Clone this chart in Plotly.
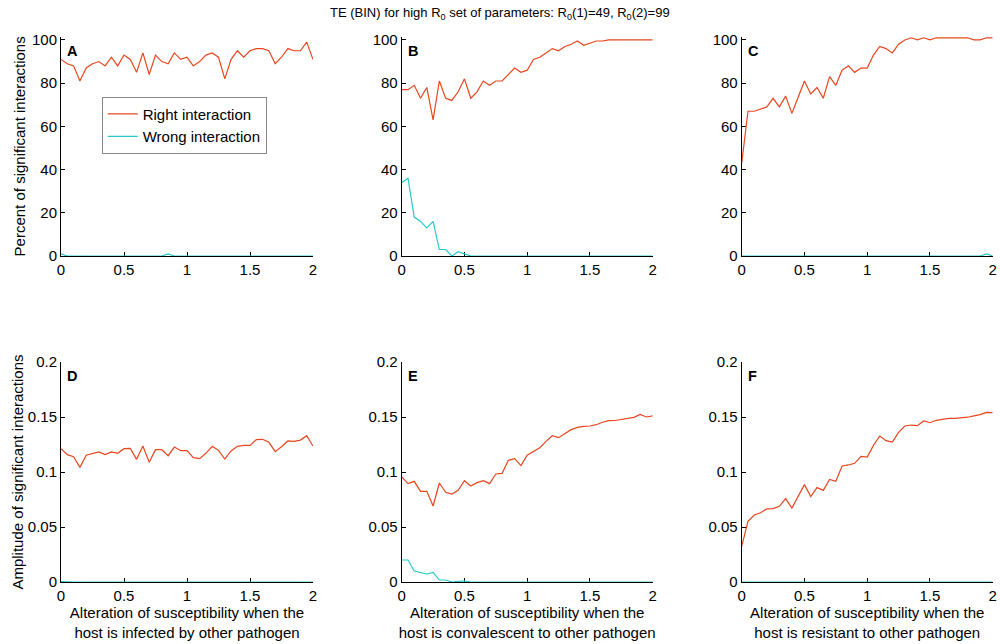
import plotly.graph_objects as go

x_vals = [0.0, 0.05, 0.1, 0.15, 0.2, 0.25, 0.3, 0.35, 0.4, 0.45, 0.5, 0.55, 0.6, 0.65, 0.7,
          0.75, 0.8, 0.85, 0.9, 0.95, 1.0, 1.05, 1.1, 1.15, 1.2, 1.25, 1.3, 1.35, 1.4, 1.45,
          1.5, 1.55, 1.6, 1.65, 1.7, 1.75, 1.8, 1.85, 1.9, 1.95, 2.0]

A_right = [91, 89, 88, 81, 87, 89, 90, 88, 92, 88, 93, 91, 85, 94, 84, 93, 90, 89, 94, 91, 92,
           88, 90, 93, 94, 92, 82, 91, 95, 92, 95, 96, 96, 95, 89, 92, 96, 95, 95, 99, 91]
A_wrong = [1, 0, 0, 0, 0, 0, 0, 0, 0, 0, 0, 0, 0, 0, 0, 0, 0, 1, 0, 0, 0,
           0, 0, 0, 0, 0, 0, 0, 0, 0, 0, 0, 0, 0, 0, 0, 0, 0, 0, 0, 0]
B_right = [77, 77, 79, 73, 78, 63, 81, 73, 72, 76, 82, 73, 76, 81, 79, 81, 81, 84, 87, 85, 86,
           91, 92, 94, 96, 95, 97, 98, 99.5, 97.5, 98.5, 99.5, 99.5, 100, 100, 100, 100, 100, 100, 100, 100]
B_wrong = [34, 36, 18, 16, 13, 16, 3, 3, 0, 2, 1, 0, 0, 0, 0, 0, 0, 0, 0, 0, 0,
           0, 0, 0, 0, 0, 0, 0, 0, 0, 0, 0, 0, 0, 0, 0, 0, 0, 0, 0, 0]
C_right = [43, 67, 67, 68, 69, 73, 69, 74, 66, 73.5, 81, 75, 78, 73, 83, 79, 86, 88, 85, 87, 87,
           93, 97, 96, 94, 98, 100, 101, 100, 101, 100, 101, 101, 101, 101, 101, 101, 100, 100, 101, 101]
C_wrong = [0, 0, 0, 0, 0, 0, 0, 0, 0, 0, 0, 0, 0, 0, 0, 0, 0, 0, 0, 0, 0,
           0, 0, 0, 0, 0, 0, 0, 0, 0, 0, 0, 0, 0, 0, 0, 0, 0, 0, 1, 0]

D_right = [0.1212, 0.1158, 0.1139, 0.1042, 0.1152, 0.117, 0.1182, 0.1158, 0.1182, 0.117, 0.1212,
           0.1215, 0.1115, 0.1236, 0.1088, 0.1203, 0.1203, 0.1148, 0.1227, 0.1194, 0.1194,
           0.113, 0.1121, 0.117, 0.1233, 0.1197, 0.1118, 0.1191, 0.1233, 0.1242, 0.1242,
           0.1294, 0.1297, 0.127, 0.1185, 0.123, 0.1282, 0.1279, 0.129, 0.133, 0.1236]
D_wrong = [0.0004, 0, 0, 0, 0, 0, 0, 0, 0, 0, 0, 0, 0, 0, 0, 0, 0, 0.0004, 0, 0, 0,
           0, 0, 0, 0, 0, 0, 0, 0, 0, 0, 0, 0, 0, 0, 0, 0, 0, 0, 0, 0]
E_right = [0.0955, 0.0894, 0.0915, 0.0824, 0.0824, 0.0691, 0.09, 0.0815, 0.08, 0.0833, 0.0921,
           0.0873, 0.0903, 0.0921, 0.0894, 0.0982, 0.0988, 0.1106, 0.1121, 0.1058, 0.1152,
           0.1188, 0.1221, 0.1279, 0.133, 0.1312, 0.135, 0.1385, 0.1405, 0.1415, 0.1418,
           0.143, 0.1452, 0.1467, 0.1468, 0.1478, 0.1485, 0.1497, 0.1524, 0.15, 0.151]
E_wrong = [0.02, 0.02, 0.01, 0.0088, 0.0073, 0.0088, 0.0018, 0.0018, 0, 0.0006, 0.0009, 0, 0, 0, 0,
           0, 0, 0, 0, 0, 0, 0, 0, 0, 0, 0, 0, 0, 0, 0, 0, 0, 0, 0, 0, 0, 0, 0, 0, 0, 0]
F_right = [0.0324, 0.0552, 0.0609, 0.063, 0.0664, 0.0667, 0.0688, 0.0758, 0.0673, 0.0782, 0.0885,
           0.0776, 0.0858, 0.0833, 0.0933, 0.0915, 0.1055, 0.1064, 0.1079, 0.1142, 0.1136,
           0.1242, 0.1327, 0.1285, 0.1273, 0.136, 0.1418, 0.1427, 0.1421, 0.1464, 0.1448,
           0.147, 0.148, 0.1488, 0.1488, 0.1492, 0.1498, 0.151, 0.1522, 0.1542, 0.154]
F_wrong = [0, 0, 0, 0, 0, 0, 0, 0, 0, 0, 0, 0, 0, 0, 0, 0, 0, 0, 0, 0, 0,
           0, 0, 0, 0, 0, 0, 0, 0, 0, 0, 0, 0, 0, 0, 0, 0, 0, 0, 0.0005, 0]

panel_letters = ["A", "B", "C", "D", "E", "F"]
series_names = ["Right interaction", "Wrong interaction"]
x_tickvals = [0, 0.5, 1, 1.5, 2]
x_ticktext = ["0", "0.5", "1", "1.5", "2"]
top_tickvals = [0, 20, 40, 60, 80, 100]
top_ticktext = ["0", "20", "40", "60", "80", "100"]
bot_tickvals = [0, 0.05, 0.1, 0.15, 0.2]
bot_ticktext = ["0", "0.05", "0.1", "0.15", "0.2"]
y_titles = ["Percent of significant interactions", "Amplitude of significant interactions"]
x_titles = ["Alteration of susceptibility when the<br>host is infected by other pathogen",
            "Alteration of susceptibility when the<br>host is convalescent to other pathogen",
            "Alteration of susceptibility when the<br>host is resistant to other pathogen"]
title_text = "TE (BIN) for high R<sub>0</sub> set of parameters: R<sub>0</sub>(1)=49, R<sub>0</sub>(2)=99"

RED = "#E8461E"
CYAN = "#26C9CC"
W, H = 1000, 644
FONT = "Liberation Sans, Arial, sans-serif"

panels = [(A_right, A_wrong), (B_right, B_wrong), (C_right, C_wrong),
          (D_right, D_wrong), (E_right, E_wrong), (F_right, F_wrong)]

col_px = [(61, 313), (401.7, 652.7), (741.7, 992.7)]
row_px = [(36.7, 256), (362, 582)]
ytitle_standoff = [2, 0]

fig = go.Figure()
layout = dict(autosize=True, margin=dict(l=0, r=0, t=0, b=0, autoexpand=False),
              paper_bgcolor="white", plot_bgcolor="white",
              font=dict(family=FONT, size=15, color="black"),
              showlegend=True)

annotations = []
for i, (right, wrong) in enumerate(panels):
    r, c = divmod(i, 3)
    n = i + 1
    xa = "x" if n == 1 else f"x{n}"
    ya = "y" if n == 1 else f"y{n}"
    fig.add_trace(go.Scatter(x=x_vals, y=right, mode="lines", name=series_names[0],
                             line=dict(color=RED, width=1.2), xaxis=xa, yaxis=ya,
                             showlegend=(i == 0), cliponaxis=False, hoverinfo="skip"))
    fig.add_trace(go.Scatter(x=x_vals, y=wrong, mode="lines", name=series_names[1],
                             line=dict(color=CYAN, width=1.2), xaxis=xa, yaxis=ya,
                             showlegend=(i == 0), cliponaxis=False, hoverinfo="skip"))
    x0, x1 = col_px[c]
    y0, y1 = row_px[r]
    xkey = "xaxis" if n == 1 else f"xaxis{n}"
    ykey = "yaxis" if n == 1 else f"yaxis{n}"
    xaxis = dict(domain=[x0 / W, x1 / W], anchor=ya, range=[0, 2],
                 tickvals=x_tickvals, ticktext=x_ticktext,
                 ticks="inside", ticklen=4, tickcolor="black",
                 showline=True, linecolor="black", linewidth=1,
                 showgrid=False, zeroline=False, layer="below traces",
                 tickfont=dict(size=15))
    if r == 1:
        xaxis["title"] = dict(text=x_titles[c], font=dict(size=15), standoff=3)
    layout[xkey] = xaxis
    if r == 0:
        yr = [0, 101.5]
        tv, tt = top_tickvals, top_ticktext
    else:
        yr = [0, 0.2]
        tv, tt = bot_tickvals, bot_ticktext
    yaxis = dict(domain=[1 - y1 / H, 1 - y0 / H], anchor=xa, range=yr,
                 tickvals=tv, ticktext=tt,
                 ticks="inside", ticklen=4, tickcolor="black",
                 showline=True, linecolor="black", linewidth=1,
                 showgrid=False, zeroline=False, layer="below traces",
                 tickfont=dict(size=15))
    if c == 0:
        yaxis["title"] = dict(text=y_titles[r], font=dict(size=15), standoff=ytitle_standoff[r])
    layout[ykey] = yaxis
    annotations.append(dict(text="<b>" + panel_letters[i] + "</b>", xref="paper", yref="paper",
                            x=(x0 + 4) / W, y=1 - (y0 + 14) / H, xanchor="left", yanchor="middle",
                            showarrow=False, font=dict(size=14.5, color="black")))

annotations.append(dict(text=title_text, xref="paper", yref="paper", x=0.5, y=1 - 13 / H,
                        xanchor="center", yanchor="middle", showarrow=False,
                        font=dict(size=13, color="black")))
layout["annotations"] = annotations
layout["legend"] = dict(x=101.7 / W, y=1 - 96.7 / H, xanchor="left", yanchor="top",
                        bgcolor="white", bordercolor="#888888", borderwidth=1,
                        font=dict(size=15), tracegroupgap=0, itemwidth=30)
fig.update_layout(**layout)
fig.write_html("out.html",
               config={"displayModeBar": False, "responsive": True},
               default_width="100vw", default_height="100vh",
               post_script="document.body.style.margin='0';document.body.style.padding='0';"
                           "document.body.style.overflow='hidden';"
                           "window.dispatchEvent(new Event('resize'));")
